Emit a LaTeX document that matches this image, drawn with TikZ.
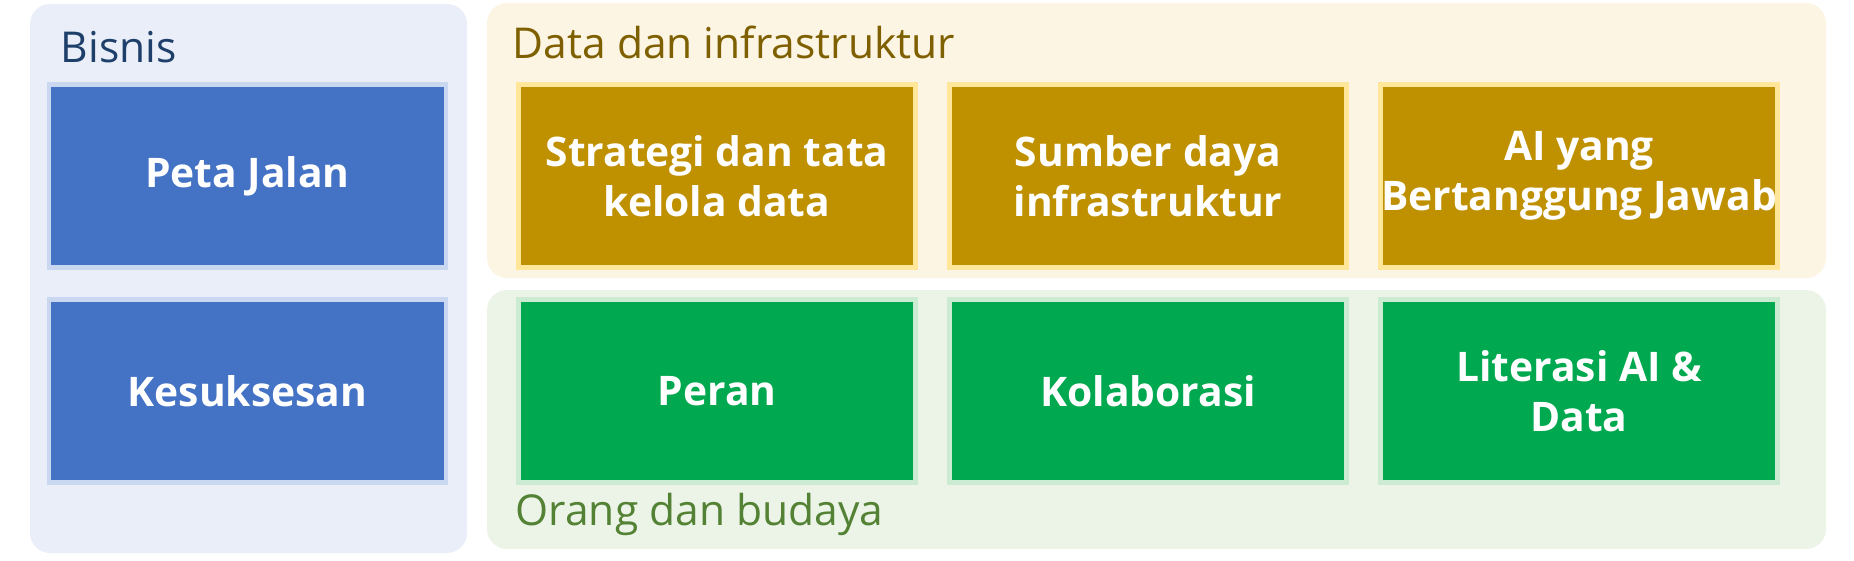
\documentclass[tikz,border=0pt]{standalone}
\usepackage{fontspec}
\setmainfont{Open Sans}
\usepackage{xcolor}
\usetikzlibrary{arrows,positioning}

\definecolor{bisnisbg}{HTML}{E9EEF8}
\definecolor{databg}{HTML}{FDF5E3}
\definecolor{orangbg}{HTML}{ECF4E8}
\definecolor{bluebox}{HTML}{4472C4}
\definecolor{blueedge}{HTML}{C9D8F0}
\definecolor{goldbox}{HTML}{BF9000}
\definecolor{goldedge}{HTML}{FFE699}
\definecolor{greenbox}{HTML}{00A84F}
\definecolor{greenedge}{HTML}{CBEBD2}
\definecolor{bisnistext}{HTML}{1F3F6B}
\definecolor{datatext}{HTML}{7F6000}
\definecolor{orangtext}{HTML}{548235}

\begin{document}
\begin{tikzpicture}[node distance=4.31cm,
box node/.style={rectangle,minimum width=3.97cm,minimum height=1.83cm,inner sep=0pt,line width=1.4pt,text=white,align=center,font=\fontsize{11.6}{14.2}\selectfont\bfseries},
blue node/.style={box node,fill=bluebox,draw=blueedge},
gold node/.style={box node,fill=goldbox,draw=goldedge},
green node/.style={box node,fill=greenbox,draw=greenedge},
panel/.style={rounded corners=0.2cm},
title/.style={anchor=base west,inner sep=0pt,font=\fontsize{12.1}{14}\selectfont}]

\useasboundingbox (0,0) rectangle (18.54,-5.60);

% panels
\fill[panel,fill=bisnisbg] (0.30,-0.04) rectangle (4.67,-5.53);
\fill[panel,fill=databg] (4.87,-0.03) rectangle (18.26,-2.78);
\fill[panel,fill=orangbg] (4.87,-2.90) rectangle (18.26,-5.49);

\node[title,text=bisnistext] (1t) at (0.60,-0.62) {Bisnis};
\node[title,text=datatext] (3t) at (5.12,-0.58) {Data dan infrastruktur};
\node[title,text=orangtext] (6t) at (5.15,-5.25) {Orang dan budaya};

% boxes
\node[blue node] (1) at (2.475,-1.76) {Peta Jalan};
\node[blue node] (2) [below of=1,node distance=2.15cm] {Kesuksesan};
\node[gold node] (3) at (7.17,-1.76) {Strategi dan tata\\kelola data};
\node[gold node] (4) [right of=3] {Sumber daya\\infrastruktur};
\node[gold node] (5) [right of=4] {AI yang\\Bertanggung Jawab};
\node[green node] (6) [below of=3,node distance=2.15cm] {Peran};
\node[green node] (7) [right of=6] {Kolaborasi};
\node[green node] (8) [right of=7] {Literasi AI \&\\Data};
\end{tikzpicture}
\end{document}
